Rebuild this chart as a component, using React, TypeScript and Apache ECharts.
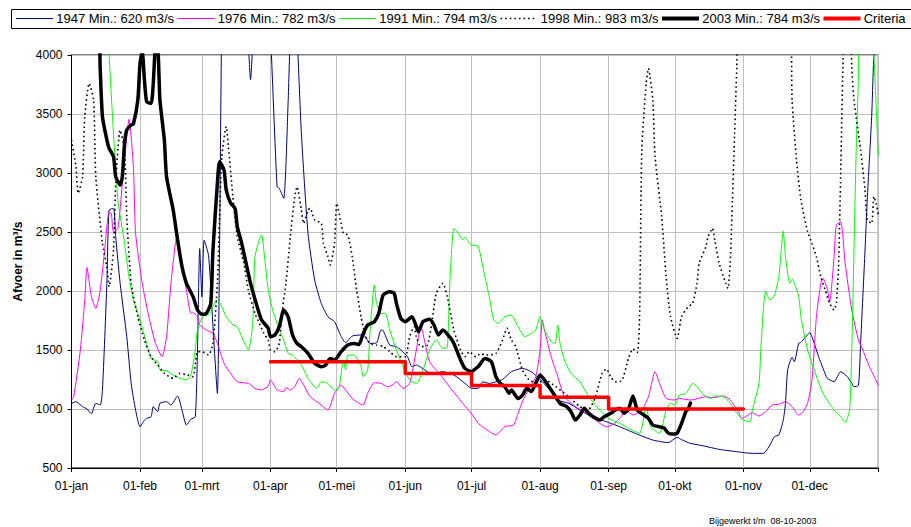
import React, { useEffect, useRef } from "react";
import * as echarts from "echarts";

// ---- axis structure ----
const monthNames = ["jan", "feb", "mrt", "apr", "mei", "jun", "jul", "aug", "sep", "okt", "nov", "dec"];
const monthLengths = [31, 28, 31, 30, 31, 30, 31, 31, 30, 31, 30, 31];
const yMin = 500;
const yMax = 4000;
const yStep = 500;

// ---- series names ----
const names = [
  "1947 Min.: 620 m3/s",
  "1976 Min.: 782 m3/s",
  "1991 Min.: 794 m3/s",
  "1998 Min.: 983 m3/s",
  "2003 Min.: 784 m3/s",
  "Criteria",
];

// ---- data: [day of year (0 = 01-jan), discharge m3/s] ----
const flow1947: [number, number][] = [
  [0, 1048], [2, 1062], [5, 1020], [7, 1000], [9, 960], [11, 1048], [13, 1034], [14, 1160], [16, 2065],
  [17, 2686], [19, 2700], [20, 2460], [22, 2065], [25, 1613], [27, 1217], [29, 991], [31, 850], [33, 906],
  [34, 921], [36, 935], [37, 1020], [39, 977], [40, 1048], [43, 1062], [45, 1034], [48, 1110], [50, 991],
  [52, 864], [54, 912], [56, 935], [57, 1500], [58, 2360], [59, 1950], [60, 2430], [62, 2300], [64, 1700],
  [66, 1133], [67, 2400], [68, 4300], [69, 4500], [79, 4500], [80, 4100], [81, 3790], [82, 4100], [83, 4500],
  [89, 4500], [90, 4200], [93, 2884], [94, 2870], [96, 2785], [98, 3600], [99, 4200], [100, 4500], [101, 4500],
  [102, 4200], [104, 3336], [107, 2489], [110, 2093], [113, 1895], [116, 1782], [119, 1740], [122, 1613],
  [124, 1562], [127, 1618], [131, 1627], [133, 1613], [135, 1556], [138, 1560], [140, 1669], [141, 1665],
  [144, 1542], [147, 1528], [149, 1500], [152, 1443], [154, 1359], [156, 1373], [161, 1316], [164, 1302],
  [168, 1316], [173, 1288], [178, 1217], [181, 1175], [184, 1175], [186, 1230], [189, 1217], [192, 1230],
  [195, 1250], [199, 1316], [204, 1344], [208, 1316], [213, 1232], [217, 1146], [220, 1076], [225, 1048],
  [230, 991], [234, 949], [240, 906], [248, 850], [255, 794], [263, 737], [270, 715], [274, 760], [276, 740],
  [280, 709], [286, 687], [293, 658], [301, 638], [308, 624], [313, 624], [316, 695], [318, 766], [320, 780],
  [322, 906], [323, 1048], [324, 1330], [326, 1438], [327, 1401], [329, 1557], [330, 1565], [332, 1607],
  [334, 1647], [336, 1557], [338, 1443], [340, 1344], [342, 1260], [345, 1232], [348, 1316], [351, 1274],
  [353, 1217], [354, 1189], [356, 1200], [357, 1557], [359, 2348], [360, 2771], [362, 3477], [363, 4000],
  [365, 4500],
];

const flow1976: [number, number][] = [
  [0, 1076], [1, 1104], [4, 1500], [6, 1924], [7, 2200], [9, 1952], [11, 1853], [13, 2008], [15, 2347],
  [17, 2672], [18, 2658], [19, 2503], [21, 2531], [23, 2912], [25, 3308], [26, 3455], [28, 3054], [29, 2489],
  [32, 2065], [35, 1782], [38, 1556], [41, 1443], [43, 1613], [45, 2065], [47, 2404], [48, 2475], [50, 2206],
  [52, 2008], [54, 1810], [55, 1816], [57, 1782], [58, 1712], [61, 1669], [64, 1641], [66, 1556], [69, 1387],
  [72, 1302], [75, 1231], [80, 1217], [83, 1175], [86, 1161], [89, 1195], [90, 1245], [92, 1189], [93, 1161],
  [96, 1147], [97, 1183], [99, 1161], [101, 1189], [103, 1260], [105, 1203], [108, 1104], [112, 1048],
  [116, 991], [119, 1133], [122, 1203], [124, 1161], [127, 1090], [130, 1048], [132, 1034], [134, 1133],
  [137, 1223], [140, 1217], [143, 1189], [145, 1200], [147, 1231], [150, 1175], [153, 1217], [156, 1500],
  [158, 1697], [162, 1401], [167, 1288], [171, 1189], [177, 1048], [181, 960], [184, 878], [186, 850],
  [192, 780], [196, 850], [200, 864], [202, 963], [205, 1104], [210, 1274], [212, 1500], [213, 1754],
  [214, 1669], [217, 1443], [220, 1274], [223, 1104], [228, 1020], [233, 963], [237, 906], [242, 850],
  [245, 870], [248, 920], [251, 991], [254, 949], [258, 991], [261, 1104], [264, 1316], [266, 1217],
  [269, 1090], [273, 1076], [275, 1090], [280, 1076], [287, 1104], [290, 1095], [295, 1110], [298, 1076],
  [302, 963], [303, 921], [305, 935], [308, 969], [311, 940], [314, 977], [317, 1034], [320, 1040],
  [323, 1062], [326, 1020], [329, 949], [331, 977], [333, 1048], [335, 1245], [337, 1782], [339, 2065],
  [340, 2107], [342, 2008], [343, 1910], [345, 2291], [346, 2560], [348, 2588], [350, 2235], [353, 1839],
  [356, 1585], [358, 1500], [361, 1358], [365, 1203],
];

const flow1991: [number, number][] = [
  [0, 4500], [16, 4400], [17, 4000], [19, 3336], [21, 2771], [24, 2404], [26, 2121], [28, 1924], [31, 1754],
  [34, 1556], [36, 1429], [39, 1401], [40, 1330], [43, 1325], [46, 1288], [49, 1260], [52, 1246], [54, 1288],
  [56, 1500], [57, 1669], [60, 1797], [62, 1797], [64, 1867], [66, 1929], [68, 1867], [70, 1782], [73, 1712],
  [75, 1698], [77, 1613], [80, 1500], [82, 1726], [83, 2291], [86, 2475], [87, 2347], [89, 2008], [91, 1840],
  [93, 1726], [96, 1585], [98, 1471], [100, 1457], [104, 1373], [107, 1260], [111, 1175], [113, 1231],
  [116, 1217], [119, 1161], [121, 1180], [123, 1415], [124, 1330], [125, 1457], [128, 1457], [131, 1359],
  [132, 1274], [134, 1330], [135, 1641], [137, 2051], [138, 1895], [140, 1810], [142, 1810], [144, 1669],
  [147, 1500], [150, 1359], [153, 1246], [156, 1217], [159, 1330], [162, 1500], [165, 1585], [168, 1514],
  [170, 1520], [171, 2008], [173, 2531], [175, 2489], [177, 2432], [178, 2460], [180, 2404], [181, 2390],
  [184, 2376], [187, 2121], [189, 1952], [191, 1754], [193, 1726], [196, 1782], [199, 1796], [202, 1698],
  [205, 1613], [208, 1641], [210, 1669], [212, 1782], [214, 1669], [218, 1556], [219, 1560], [220, 1712],
  [221, 1560], [223, 1415], [226, 1302], [230, 1231], [234, 1104], [239, 991], [243, 920], [248, 878],
  [252, 836], [257, 794], [260, 1020], [262, 850], [266, 794], [269, 991], [271, 1048], [273, 1034],
  [275, 1118], [278, 1133], [281, 1217], [283, 1190], [286, 1118], [289, 1090], [291, 1110], [295, 1104],
  [298, 1048], [301, 963], [304, 906], [307, 892], [308, 991], [311, 1217], [312, 1557], [314, 1995],
  [316, 1924], [318, 1966], [320, 2121], [322, 2508], [323, 2291], [325, 2065], [326, 2100], [329, 1952],
  [330, 1782], [333, 1500], [336, 1330], [340, 1133], [345, 991], [348, 935], [350, 884], [352, 991],
  [353, 1500], [354, 2347], [355, 3195], [356, 3800], [357, 4300], [362, 4300], [363, 4000], [365, 3150],
];

const flow1998: [number, number][] = [
  [0, 3280], [2, 3054], [3, 2828], [5, 2969], [6, 3477], [8, 3760], [10, 3619], [11, 2969], [14, 2404],
  [16, 2206], [17, 2037], [19, 2347], [20, 2912], [22, 3364], [24, 3195], [25, 2630], [27, 2065], [30, 1782],
  [33, 1585], [36, 1443], [39, 1373], [42, 1302], [46, 1260], [49, 1302], [52, 1290], [55, 1274], [57, 1486],
  [59, 1486], [62, 1457], [64, 1556], [66, 2065], [67, 2630], [68, 3138], [70, 3393], [71, 3223], [73, 2800],
  [75, 2461], [78, 2234], [80, 2008], [83, 1810], [85, 1726], [87, 1641], [89, 1585], [90, 1500], [92, 1486],
  [94, 1556], [95, 1782], [97, 2065], [99, 2461], [101, 2800], [102, 2884], [104, 2687], [105, 2573],
  [107, 2687], [108, 2701], [110, 2602], [113, 2573], [114, 2404], [116, 2291], [117, 2220], [119, 2404],
  [120, 2743], [122, 2573], [123, 2489], [125, 2475], [127, 2291], [129, 2008], [131, 1782], [133, 1613],
  [135, 1556], [138, 1542], [141, 1530], [144, 1486], [147, 1443], [151, 1443], [153, 1613], [155, 1698],
  [156, 1613], [158, 1528], [161, 1542], [163, 1726], [165, 1980], [168, 2065], [170, 1952], [173, 1669],
  [176, 1500], [178, 1443], [180, 1486], [183, 1443], [185, 1470], [187, 1457], [192, 1471], [195, 1585],
  [197, 1684], [199, 1585], [201, 1528], [204, 1330], [207, 1246], [211, 1220], [214, 1250], [219, 1190],
  [224, 1120], [230, 1020], [234, 1000], [237, 1100], [240, 1300], [242, 1340], [244, 1270], [246, 1230],
  [249, 1240], [252, 1430], [254, 1510], [256, 1480], [257, 1782], [258, 3195], [260, 3760], [261, 3887],
  [263, 3619], [264, 3138], [267, 2630], [269, 2121], [271, 1782], [274, 1599], [276, 1782], [279, 1867],
  [281, 1895], [283, 2065], [284, 2235], [287, 2376], [288, 2461], [290, 2531], [291, 2432], [293, 2235],
  [296, 2065], [297, 2022], [298, 2235], [299, 2771], [300, 3336], [301, 3900], [302, 4300], [325, 4300],
  [326, 3619], [328, 3110], [330, 2771], [333, 2503], [335, 2404], [337, 2291], [339, 2121], [341, 2008],
  [343, 1895], [345, 1839], [346, 1900], [347, 2200], [348, 3000], [349, 3900], [350, 4300], [352, 4300],
  [353, 3900], [354, 3619], [357, 3195], [359, 2856], [360, 2602], [362, 2573], [363, 2800], [364, 2743],
  [365, 2650],
];

const flow2003: [number, number][] = [
  [0, 4500], [12, 4300], [13, 3873], [14, 3477], [16, 3280], [17, 3209], [19, 3138], [20, 2969], [22, 2898],
  [23, 2969], [24, 3251], [25, 3364], [27, 3407], [28, 3415], [30, 3619], [31, 3930], [32, 4030], [33, 3788],
  [34, 3604], [36, 3590], [37, 3760], [38, 4050], [39, 4050], [40, 3619], [42, 3280], [43, 2969], [46, 2686],
  [48, 2432], [50, 2206], [52, 2065], [55, 1952], [57, 1839], [59, 1802], [61, 1810], [63, 1895], [64, 2347],
  [66, 2912], [67, 3096], [69, 3025], [70, 2856], [72, 2743], [74, 2700], [75, 2545], [77, 2404], [79, 2234],
  [81, 2065], [84, 1867], [86, 1754], [89, 1684], [90, 1613], [92, 1627], [94, 1698], [96, 1839], [98, 1782],
  [100, 1627], [102, 1556], [104, 1528], [107, 1472], [110, 1387], [113, 1359], [115, 1373], [117, 1429],
  [119, 1415], [122, 1486], [125, 1542], [128, 1556], [130, 1545], [132, 1641], [134, 1712], [137, 1740],
  [139, 1810], [141, 1966], [144, 1994], [146, 1980], [147, 1895], [149, 1768], [151, 1740], [154, 1782],
  [156, 1698], [157, 1655], [159, 1740], [162, 1760], [164, 1712], [166, 1627], [168, 1669], [171, 1613],
  [173, 1556], [176, 1415], [178, 1344], [181, 1316], [182, 1330], [184, 1359], [187, 1429], [190, 1400],
  [192, 1274], [194, 1217], [196, 1189], [198, 1133], [199, 1161], [202, 1090], [204, 1118], [206, 1175],
  [208, 1147], [210, 1217], [212, 1288], [214, 1246], [217, 1161], [219, 1104], [221, 1048], [224, 1020],
  [226, 977], [228, 906], [230, 949], [232, 1006], [234, 963], [236, 935], [239, 906], [241, 935], [244, 964],
  [246, 991], [248, 1006], [250, 964], [252, 1000], [254, 1110], [256, 991], [259, 949], [261, 920],
  [263, 864], [266, 850], [268, 840], [270, 796], [272, 788], [274, 796], [276, 879], [278, 980], [279, 1000],
  [280, 1050],
];

const criteria: [number, number][] = [
  [90, 1400], [151, 1300], [181, 1200], [212, 1100], [243, 1000], [304, 1000],
];

const seriesColors = ["#000080", "#ff00ff", "#00ff00", "#000000", "#000000", "#ff0000"];
const seriesWidths = [1, 1, 1, 1.6, 3.5, 3.5];

const footnote = "Bijgewerkt t/m \u00a008-10-2003";
const yAxisTitle = "Afvoer in m³/s";

// build the 366 day categories (01-jan .. 31-dec, plus closing 01-jan)
const categories: string[] = [];
monthNames.forEach((m, i) => {
  for (let d = 1; d <= monthLengths[i]; d++) categories.push(`${String(d).padStart(2, "0")}-${m}`);
});
categories.push("01-jan");
const lastIndex = categories.length - 1;

const FONT = "'Liberation Sans', Arial, sans-serif";
const DOT: number[] = [1.6, 3];

export default function App() {
  const ref = useRef<HTMLDivElement>(null);

  useEffect(() => {
    if (!ref.current) return;
    const chart = echarts.init(ref.current, null, { renderer: "svg" });

    const isMonthStart = (idx: number, val: string) => val.startsWith("01-");

    const lineSeries = (i: number, data: [number, number][], extra: any = {}) => ({
      name: names[i],
      type: "line",
      data,
      symbol: "none",
      showSymbol: false,
      clip: true,
      silent: true,
      smooth: extra.smooth ?? 0.2,
      step: extra.step,
      lineStyle: {
        color: seriesColors[i],
        width: seriesWidths[i],
        type: i === 3 ? DOT : "solid",
        join: "round",
        cap: i === 3 ? "butt" : "round",
      },
      itemStyle: { color: seriesColors[i] },
    });

    // legend drawn as graphic so that the samples are plain lines
    const legendItems: any[] = [];
    names.forEach((n, i) => {
      const x0 = 16 + i * 161.5;
      legendItems.push({
        type: "line",
        shape: { x1: x0, y1: 18.5, x2: x0 + 37, y2: 18.5 },
        style: {
          stroke: seriesColors[i],
          lineWidth: i === 4 || i === 5 ? 4 : i === 3 ? 1.6 : 1.2,
          lineDash: i === 3 ? DOT : null,
        },
        silent: true,
        z: 5,
      });
      legendItems.push({
        type: "text",
        x: x0 + 40.2,
        y: 18.8,
        style: {
          text: n,
          fill: "#000",
          font: `13px ${FONT}`,
          textAlign: "left",
          textVerticalAlign: "middle",
        },
        silent: true,
        z: 5,
      });
    });

    chart.setOption({
      animation: false,
      backgroundColor: "#ffffff",
      textStyle: { fontFamily: FONT },
      grid: {
        left: 71.5,
        right: 32.7,
        top: 55,
        bottom: 59,
        show: true,
        borderColor: "#000",
        borderWidth: 1,
        backgroundColor: "transparent",
      },
      graphic: [
        {
          type: "rect",
          z: 1,
          shape: { x: 11.5, y: 9.5, width: 910, height: 19 },
          style: { fill: "#fff", stroke: "#000", lineWidth: 1 },
          silent: true,
        },
        ...legendItems,
        {
          type: "text",
          x: 18,
          y: 261.5,
          rotation: Math.PI / 2,
          style: {
            text: yAxisTitle,
            fill: "#000",
            font: `bold 12px ${FONT}`,
            textAlign: "center",
            textVerticalAlign: "middle",
          },
          silent: true,
        },
        {
          type: "text",
          x: 709,
          y: 521,
          style: {
            text: footnote,
            fill: "#000",
            font: `9px ${FONT}`,
            textAlign: "left",
            textVerticalAlign: "middle",
          },
          silent: true,
        },
      ],
      xAxis: {
        type: "category",
        data: categories,
        boundaryGap: false,
        axisLine: { lineStyle: { color: "#000", width: 1 } },
        axisTick: { show: true, length: 4, interval: isMonthStart, lineStyle: { color: "#000" } },
        axisLabel: {
          interval: (idx: number, val: string) => idx < lastIndex && isMonthStart(idx, val),
          margin: 12,
          fontSize: 12,
          color: "#000",
          fontFamily: FONT,
        },
        splitLine: { show: true, interval: isMonthStart, lineStyle: { color: "#c0c0c0", width: 1 } },
      },
      yAxis: {
        type: "value",
        min: yMin,
        max: yMax,
        interval: yStep,
        axisLine: { show: true, lineStyle: { color: "#000", width: 1 } },
        axisTick: { show: true, length: 4, lineStyle: { color: "#000" } },
        axisLabel: {
          margin: 9,
          fontSize: 12,
          color: "#000",
          fontFamily: FONT,
          formatter: (v: number) => String(v),
        },
        splitLine: { show: true, lineStyle: { color: "#c0c0c0", width: 1 } },
      },
      series: [
        lineSeries(0, flow1947),
        lineSeries(1, flow1976),
        lineSeries(2, flow1991),
        lineSeries(3, flow1998),
        lineSeries(4, flow2003),
        lineSeries(5, criteria, { step: "end", smooth: false }),
      ],
    });

    return () => chart.dispose();
  }, []);

  return (
    <div
      ref={ref}
      style={{ position: "absolute", left: 0, top: 0, width: 911, height: 527, background: "#fff" }}
    />
  );
}
